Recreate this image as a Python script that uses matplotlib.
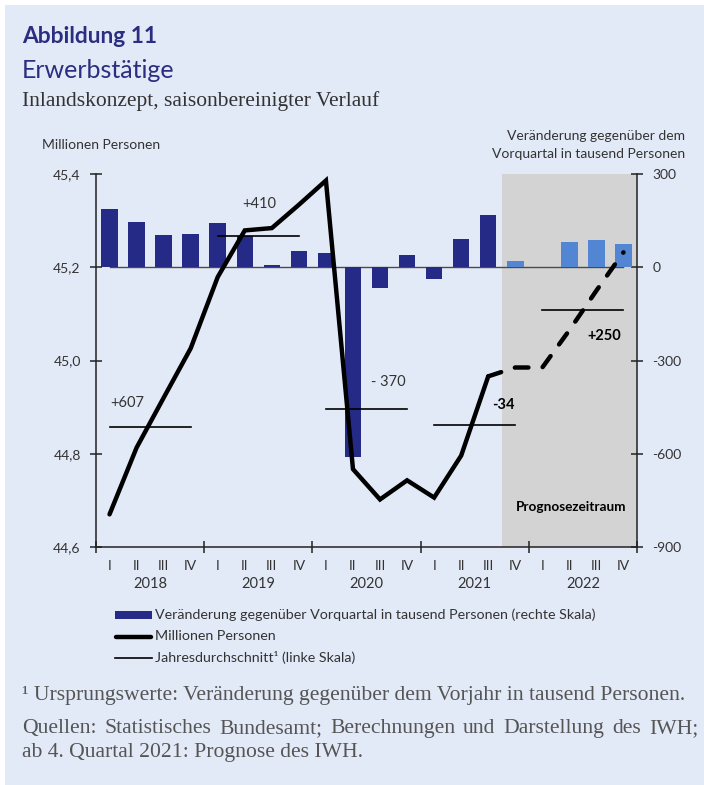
import matplotlib
matplotlib.use('Agg')
import matplotlib.pyplot as plt
import matplotlib.patches as mpatches
from matplotlib.lines import Line2D
from matplotlib.transforms import blended_transform_factory
import numpy as np

# ---------------- data ----------------
quarter_labels = ['I', 'II', 'III', 'IV'] * 5
year_labels = ['2018', '2019', '2020', '2021', '2022']
# change vs previous quarter, thousand persons (right scale)
bar_values = [189, 144, 105, 106, 142, 100, 6, 52, 47, -611,
              -67, 40, -39, 92, 168, 21, 0, 82, 88, 76]
# employed persons, millions (left scale)
millions = [44.670, 44.813, 44.920, 45.026, 45.179, 45.279, 45.284, 45.334,
            45.386, 44.767, 44.702, 44.743, 44.706, 44.796, 44.966, 44.985,
            44.985, 45.065, 45.150, 45.232]
annual_avg = [44.857, 45.267, 44.896, 44.862, 45.109]
annual_labels = ['+607', '+410', '- 370', '-34', '+250']
n_observed = 15  # 2018 Q1 .. 2021 Q3 observed, rest forecast

left_ticks = [44.6, 44.8, 45.0, 45.2, 45.4]
left_ticklabels = ['44,6', '44,8', '45,0', '45,2', '45,4']
right_ticks = [-900, -600, -300, 0, 300]
right_ticklabels = ['-900', '-600', '-300', '0', '300']

# ---------------- style ----------------
BG = '#e3eaf7'
NAVY = '#242a85'
LIGHT = '#5286d3'
SHADE = '#d3d3d3'
TXT = '#333333'
TITLE = '#2b2e80'

plt.rcParams['font.family'] = ['Lato', 'DejaVu Sans']

W, H = 704, 785
fig = plt.figure(figsize=(W / 100, H / 100), dpi=100)
fig.patch.set_facecolor('white')
renderer = fig.canvas.get_renderer()


def fx(px):
    return px / W


def fy(py):
    return 1 - py / H


fig.add_artist(mpatches.Rectangle((fx(5), 0), fx(704) - fx(5), fy(5), transform=fig.transFigure,
                                  facecolor=BG, edgecolor='none', zorder=-10))


def fit(t, width_px):
    bb = t.get_window_extent(renderer)
    t.set_fontsize(t.get_fontsize() * width_px / bb.width)
    return t


# ---------------- axes ----------------
ax_l, ax_r, ax_t, ax_b = 96, 637, 174, 547
ax = fig.add_axes([fx(ax_l), fy(ax_b), fx(ax_r) - fx(ax_l), fy(ax_t) - fy(ax_b)])
ax2 = ax.twinx()
ax.set_zorder(ax2.get_zorder() + 1)
ax.patch.set_visible(False)
ax2.patch.set_visible(False)

n = len(bar_values)
xc = np.arange(n) + 0.5
ax.set_xlim(0, n)
ax.set_ylim(44.6, 45.4)
ax2.set_ylim(-900, 300)

# forecast shading
ax2.axvspan(n_observed, n, color=SHADE, zorder=0, lw=0)
# zero line
ax2.plot([xc[0], xc[-1]], [0, 0], color='#4a4a4a', lw=1.0, zorder=1)
# bars
colors = [NAVY if i < n_observed else LIGHT for i in range(n)]
ax2.bar(xc, bar_values, width=0.61, color=colors, zorder=2)

# annual averages
for k, v in enumerate(annual_avg):
    ax.plot([xc[4 * k], xc[4 * k + 3]], [v, v], color='black', lw=1.2, zorder=3)

# main line
ax.plot(xc[:n_observed], millions[:n_observed], color='black', lw=3.2,
        solid_capstyle='round', solid_joinstyle='miter', zorder=4)
ax.plot(xc[n_observed - 1:], millions[n_observed - 1:], color='black', lw=3.2,
        linestyle=(0, (3.06, 3.24)), dash_capstyle='round', zorder=4)

# annotations
ax.text(0.52, 44.909, annual_labels[0], ha='left', va='center', fontsize=10.5, color=TXT)
ax.text(6.03, 45.336, annual_labels[1], ha='center', va='center', fontsize=10.5, color=TXT)
ax.text(10.79, 44.953, annual_labels[2], ha='center', va='center', fontsize=10.5, color=TXT)
ax.text(15.05, 44.904, annual_labels[3], ha='center', va='center', fontsize=10.5,
        fontweight='bold', color='black')
ax.text(18.78, 45.053, annual_labels[4], ha='center', va='center', fontsize=10.5,
        fontweight='bold', color='black')
tp = ax.text(17.57, 44.685, 'Prognosezeitraum', ha='center', va='center', fontsize=10,
             fontweight='bold', color='black')
fit(tp, 110)

# spines / ticks
for a in (ax, ax2):
    a.spines['top'].set_visible(False)
ax2.spines['left'].set_visible(False)
ax2.spines['bottom'].set_visible(False)
ax.spines['right'].set_visible(False)
for s in ('left', 'bottom'):
    ax.spines[s].set_color('#222222')
    ax.spines[s].set_linewidth(1.1)
ax2.spines['right'].set_color('#222222')
ax2.spines['right'].set_linewidth(1.1)

ax.set_yticks(left_ticks)
ax.set_yticklabels(left_ticklabels)
ax.set_xticks([0, 4, 8, 12, 16, 20])
ax.set_xticklabels([])
ax.tick_params(axis='y', direction='inout', length=9, width=1.1, colors='#222222',
               labelcolor=TXT, labelsize=10, pad=6.5)
ax.tick_params(axis='x', direction='inout', length=9, width=1.1, colors='#222222')
ax2.set_yticks(right_ticks)
ax2.set_yticklabels(right_ticklabels)
ax2.tick_params(axis='y', direction='inout', length=9, width=1.1, colors='#222222',
                labelcolor=TXT, labelsize=10, pad=6.5)

# quarter / year labels
tr = blended_transform_factory(ax.transData, fig.transFigure)
for i, q in enumerate(quarter_labels):
    ax.text(xc[i], fy(566), q, transform=tr, ha='center', va='center', fontsize=10, color=TXT)
for k, y in enumerate(year_labels):
    ax.text(4 * k + 2, fy(584), y, transform=tr, ha='center', va='center', fontsize=10.5, color=TXT)

# axis titles
fig.text(fx(42), fy(149), 'Millionen Personen', ha='left', va='baseline', fontsize=10, color=TXT)
fig.text(fx(685), fy(140), 'Veränderung gegenüber dem', ha='right', va='baseline', fontsize=10, color=TXT)
fig.text(fx(685), fy(157.7), 'Vorquartal in tausend Personen', ha='right', va='baseline', fontsize=10, color=TXT)

# titles
t1 = fig.text(fx(22), fy(42.7), 'Abbildung 11', ha='left', va='baseline', fontsize=15,
              fontweight='bold', color=TITLE)
fit(t1, 136)
t2 = fig.text(fx(22), fy(78.3), 'Erwerbstätige', ha='left', va='baseline', fontsize=17, color=TITLE)
fit(t2, 153)
t3 = fig.text(fx(22), fy(106), 'Inlandskonzept, saisonbereinigter Verlauf', ha='left', va='baseline',
              fontsize=14, color=TXT, family='Liberation Serif')
fit(t3, 358)

# legend (manual)
fig.add_artist(mpatches.Rectangle((fx(115), fy(619)), fx(152) - fx(115), fy(611) - fy(619),
                                  transform=fig.transFigure, facecolor=NAVY, edgecolor='none'))
fig.add_artist(Line2D([fx(116), fx(151)], [fy(637), fy(637)], transform=fig.transFigure,
                      color='black', lw=3.2, solid_capstyle='round'))
fig.add_artist(Line2D([fx(115), fx(152)], [fy(658), fy(658)], transform=fig.transFigure,
                      color='black', lw=1.2))
lg1 = fig.text(fx(155), fy(615), 'Veränderung gegenüber Vorquartal in tausend Personen (rechte Skala)',
               ha='left', va='center', fontsize=9.5, color=TXT)
fit(lg1, 441)
fs_leg = lg1.get_fontsize()
fig.text(fx(155), fy(636), 'Millionen Personen', ha='left', va='center', fontsize=fs_leg, color=TXT)
fig.text(fx(155), fy(658), 'Jahresdurchschnitt¹ (linke Skala)', ha='left', va='center',
         fontsize=fs_leg, color=TXT)

# footnotes
SERIF = 'Liberation Serif'
FOOT = '#555555'
f1 = fig.text(fx(22), fy(700), '¹ Ursprungswerte: Veränderung gegenüber dem Vorjahr in tausend Personen.',
              ha='left', va='baseline', fontsize=13, color=FOOT, family=SERIF)
fit(f1, 664)
fs_foot = f1.get_fontsize()

# justified line
words = 'Quellen: Statistisches Bundesamt; Berechnungen und Darstellung des IWH;'.split()
wts = [fig.text(0, fy(733), w, ha='left', va='baseline', fontsize=fs_foot, color=FOOT, family=SERIF)
       for w in words]
widths = [t.get_window_extent(renderer).width for t in wts]
gap = (698 - 22 - sum(widths)) / (len(words) - 1)
xpos = 22
for t, w in zip(wts, widths):
    t.set_x(fx(xpos))
    xpos += w + gap
fig.text(fx(22), fy(757), 'ab 4. Quartal 2021: Prognose des IWH.', ha='left', va='baseline',
         fontsize=fs_foot, color=FOOT, family=SERIF)

fig.savefig('out.png', dpi=100, facecolor=fig.get_facecolor())
